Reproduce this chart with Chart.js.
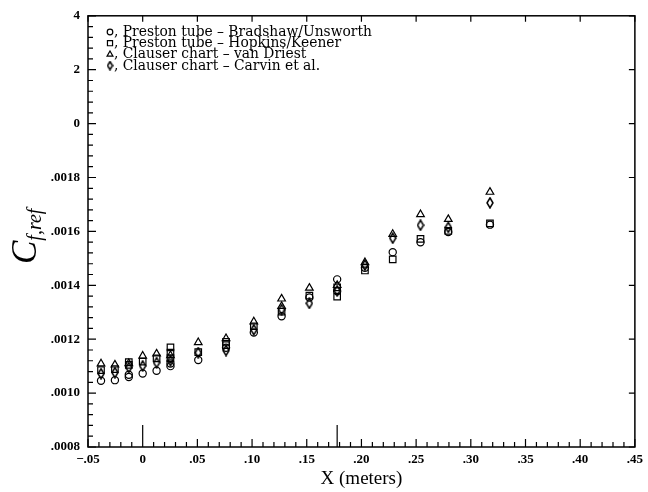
<!DOCTYPE html>
<html>
<head>
<meta charset="utf-8">
<script src="https://cdn.jsdelivr.net/npm/chart.js@4.4.0/dist/chart.umd.min.js"></script>
<style>
  html, body { margin: 0; padding: 0; background: #fff; }
</style>
</head>
<body>
<canvas id="myChart" width="648" height="492"></canvas>
<script>
// data (x in meters, Cf,ref)
const bradshawX = [-0.0381, -0.0254, -0.0127, -0.0127, 0, 0.0127, 0.0254, 0.0254, 0.0508, 0.0762, 0.1016, 0.127, 0.1524, 0.1778, 0.1778, 0.2032, 0.2286, 0.254, 0.2794, 0.3175];
const bradshawY = [0.001046, 0.001048, 0.001060, 0.001068, 0.001073, 0.001083, 0.001100, 0.001110, 0.001123, 0.001168, 0.001225, 0.001285, 0.001355, 0.001422, 0.001378, 0.001465, 0.001523, 0.001560, 0.001598, 0.001625];

const hopkinsX = [-0.0381, -0.0254, -0.0127, -0.0127, 0, 0.0127, 0.0254, 0.0254, 0.0254, 0.0508, 0.0762, 0.0762, 0.1016, 0.127, 0.1524, 0.1778, 0.1778, 0.2032, 0.2286, 0.254, 0.2794, 0.3175];
const hopkinsY = [0.001085, 0.001089, 0.001115, 0.001105, 0.001117, 0.001129, 0.001170, 0.001150, 0.001130, 0.001152, 0.001190, 0.001178, 0.001248, 0.001302, 0.001362, 0.001392, 0.001358, 0.001455, 0.001496, 0.001572, 0.001602, 0.001630];

const vanDriestX = [-0.0381, -0.0254, -0.0127, 0, 0.0127, 0.0254, 0.0508, 0.0762, 0.1016, 0.127, 0.127, 0.1524, 0.1778, 0.2032, 0.2286, 0.254, 0.2794, 0.3175];
const vanDriestY = [0.001109, 0.001105, 0.001110, 0.001138, 0.001146, 0.001140, 0.001188, 0.001203, 0.001265, 0.001350, 0.001322, 0.001390, 0.001400, 0.001485, 0.001590, 0.001663, 0.001645, 0.001746];

const carvinX = [-0.0381, -0.0254, -0.0127, 0, 0.0127, 0.0254, 0.0508, 0.0762, 0.1016, 0.127, 0.1524, 0.1778, 0.2032, 0.2286, 0.254, 0.2794, 0.3175];
const carvinY = [0.001072, 0.001076, 0.001095, 0.001101, 0.001113, 0.001120, 0.001150, 0.001158, 0.001235, 0.001310, 0.001333, 0.001380, 0.001475, 0.001575, 0.001623, 0.001615, 0.001706];

const seriesNames = [
  'Preston tube \u2013 Bradshaw/Unsworth',
  'Preston tube \u2013 Hopkins/Keener',
  'Clauser chart \u2013 van Driest',
  'Clauser chart \u2013 Carvin et al.'
];

const xMin = -0.05, xMax = 0.45, xStep = 0.05;
const yMin = 0.0008, yMax = 0.0024, yStep = 0.0002;
// the long marks rising from the x axis
const markX = [0, 0.1778];

function toPoints(xs, ys) {
  return xs.map((x, i) => ({ x: x, y: ys[i] }));
}

// narrow diamond used as point style
function makeDiamond(w, h) {
  const c = document.createElement('canvas');
  c.width = w + 2;
  c.height = h + 2;
  const g = c.getContext('2d');
  g.strokeStyle = '#000';
  g.lineWidth = 1.5;
  g.beginPath();
  g.moveTo(c.width / 2, 1);
  g.lineTo(c.width - 1, c.height / 2);
  g.lineTo(c.width / 2, c.height - 1);
  g.lineTo(1, c.height / 2);
  g.closePath();
  g.stroke();
  return c;
}
const diamond = makeDiamond(6, 10);
const diamondSmall = makeDiamond(5, 8);

const styles = [
  { pointStyle: 'circle', radius: 3.6 },
  { pointStyle: 'rect', radius: 4.6 },
  { pointStyle: 'triangle', radius: 4.4 },
  { pointStyle: diamond, radius: 5 }
];
const legendStyles = [
  { pointStyle: 'circle', radius: 2.8 },
  { pointStyle: 'rect', radius: 3.6 },
  { pointStyle: 'triangle', radius: 3.4 },
  { pointStyle: diamondSmall, radius: 4 }
];

const allX = [bradshawX, hopkinsX, vanDriestX, carvinX];
const allY = [bradshawY, hopkinsY, vanDriestY, carvinY];

const datasets = seriesNames.map((name, i) => ({
  label: name,
  data: toPoints(allX[i], allY[i]),
  pointStyle: styles[i].pointStyle,
  pointRadius: styles[i].radius,
  pointBorderColor: '#000',
  pointBackgroundColor: 'rgba(0,0,0,0)',
  pointBorderWidth: 1.2,
  showLine: false
}));

function fmtX(v) {
  if (Math.abs(v) < 1e-9) return '0';
  const s = Math.abs(v).toFixed(2).replace(/^0/, '');
  return v < 0 ? '\u2212' + s : s;
}
function fmtY(v) {
  const n = Math.round(v * 10000);
  if (n < 20) return '.' + String(n).padStart(4, '0');
  return String(n % 10); // labels are cut off to the last digit in the original
}

const frame = {
  id: 'frame',
  afterDraw(chart) {
    const ctx = chart.ctx;
    const a = chart.chartArea;
    const xs = chart.scales.x, ys = chart.scales.y;
    ctx.save();
    ctx.strokeStyle = '#000';
    ctx.lineWidth = 1.5;
    ctx.strokeRect(a.left, a.top, a.right - a.left, a.bottom - a.top);

    ctx.lineWidth = 1.2;
    ctx.beginPath();
    // x ticks, every .01 with majors every .05
    for (let i = 0; i <= 50; i++) {
      const px = xs.getPixelForValue(xMin + i * 0.01);
      const major = i % 5 === 0;
      ctx.moveTo(px, a.bottom);
      ctx.lineTo(px, a.bottom - (major ? 8 : 5));
      if (major) {
        ctx.moveTo(px, a.top);
        ctx.lineTo(px, a.top + 6);
      }
    }
    // y ticks, 5 per major
    for (let i = 0; i <= 40; i++) {
      const py = ys.getPixelForValue(yMin + i * 0.00004);
      const major = i % 5 === 0;
      ctx.moveTo(a.left, py);
      ctx.lineTo(a.left + (major ? 8 : 5), py);
      if (major) {
        ctx.moveTo(a.right, py);
        ctx.lineTo(a.right - 6, py);
      }
    }
    markX.forEach(v => {
      const px = xs.getPixelForValue(v);
      ctx.moveTo(px, a.bottom);
      ctx.lineTo(px, a.bottom - 22);
    });
    ctx.stroke();

    // legend inside the plot
    ctx.fillStyle = '#000';
    ctx.textBaseline = 'middle';
    ctx.textAlign = 'left';
    let fs = 12;
    ctx.font = fs + 'px "DejaVu Serif"';
    const w = ctx.measureText(', ' + seriesNames[0]).width;
    fs = fs * 258 / w;
    ctx.font = fs + 'px "DejaVu Serif"';
    seriesNames.forEach((name, i) => {
      const y = 32 + i * 11.2;
      ctx.fillStyle = 'rgba(0,0,0,0)';
      Chart.helpers.drawPoint(ctx, {
        pointStyle: legendStyles[i].pointStyle,
        radius: legendStyles[i].radius,
        rotation: 0,
        borderWidth: 1
      }, 110, y);
      ctx.fillStyle = '#000';
      ctx.fillText(', ' + name, 114, y + 0.5);
    });

    // y title C_{f,ref}
    ctx.save();
    ctx.translate(36, 264);
    ctx.rotate(-Math.PI / 2);
    ctx.textBaseline = 'alphabetic';
    ctx.font = 'italic 35px "Liberation Serif"';
    ctx.fillText('C', 0, 0);
    const cw = ctx.measureText('C').width;
    ctx.font = 'italic 20px "Liberation Serif"';
    ctx.fillText('f,ref', cw, 5);
    ctx.restore();

    // x title
    ctx.textAlign = 'center';
    ctx.textBaseline = 'middle';
    ctx.font = '19px "Liberation Serif"';
    ctx.fillText('X (meters)', (a.left + a.right) / 2, 479);
    ctx.restore();
  }
};

const ctx = document.getElementById('myChart');

new Chart(ctx, {
  type: 'scatter',
  data: { datasets: datasets },
  options: {
    responsive: false,
    animation: false,
    layout: { padding: { top: 11, right: 7, left: 0, bottom: 0 } },
    plugins: {
      legend: { display: false },
      tooltip: { enabled: false }
    },
    scales: {
      x: {
        type: 'linear',
        min: xMin,
        max: xMax,
        afterFit: (s) => { s.height = 45; },
        grid: { display: false, drawTicks: false },
        border: { display: false },
        ticks: {
          stepSize: xStep,
          padding: 5,
          color: '#000',
          font: { family: 'Liberation Serif', size: 13, weight: 'bold' },
          callback: (v) => fmtX(v),
          maxRotation: 0,
          autoSkip: false
        }
      },
      y: {
        type: 'linear',
        min: yMin,
        max: yMax,
        afterFit: (s) => { s.width = 88; },
        grid: { display: false, drawTicks: false },
        border: { display: false },
        ticks: {
          stepSize: yStep,
          padding: 8,
          color: '#000',
          font: { family: 'Liberation Serif', size: 13, weight: 'bold' },
          callback: (v) => fmtY(v),
          autoSkip: false
        }
      }
    }
  },
  plugins: [frame]
});
</script>
</body>
</html>
